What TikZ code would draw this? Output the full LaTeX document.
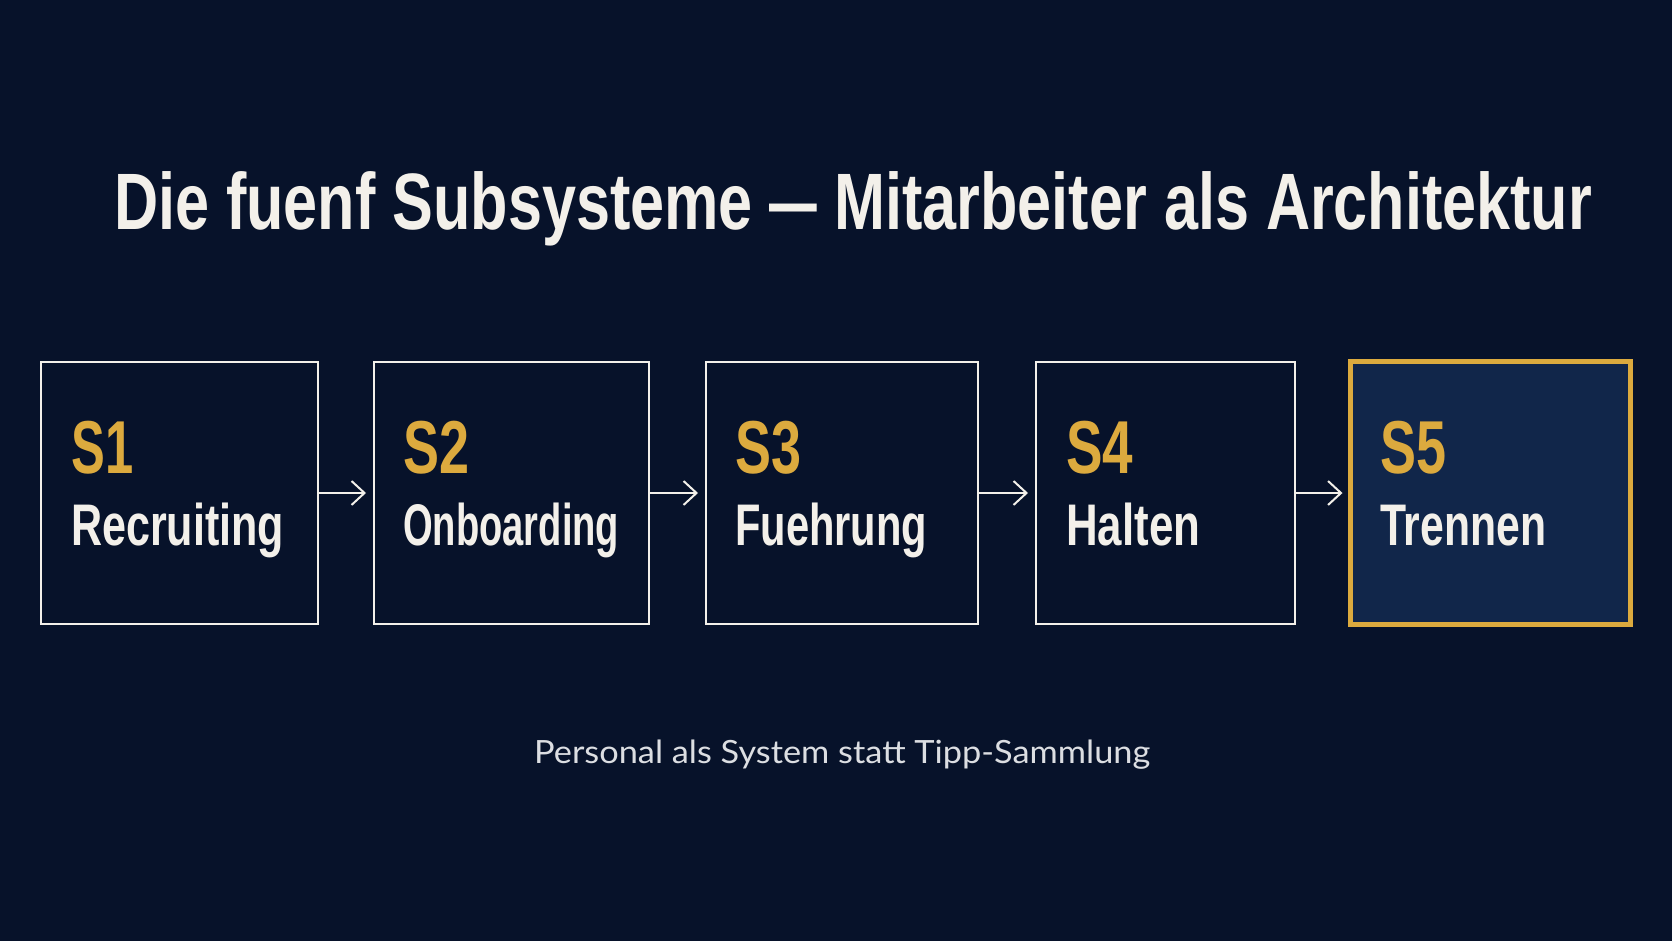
\documentclass[tikz,border=0pt]{standalone}
\usepackage{fontspec}
\usepackage{graphicx}
\usetikzlibrary{arrows.meta}
\setmainfont{Liberation Sans}
\newfontfamily\boxfont{Liberation Sans}
\newfontfamily\subfont{Lato}
\newcommand\fitto[2]{\resizebox{#1}{\height}{#2}}
\definecolor{bg}{HTML}{07122A}
\definecolor{gold}{HTML}{DCAA3E}
\definecolor{offwhite}{HTML}{F3F0EA}
\definecolor{hifill}{HTML}{11264A}
\definecolor{subgray}{HTML}{DCDEE2}
\tikzset{
  stagebox/.style={draw=offwhite, line width=2pt, inner sep=0pt, outer sep=0pt, minimum height=262pt},
  highbox/.style={draw=gold, fill=hifill, line width=5pt, inner sep=0pt, outer sep=0pt, minimum height=263pt},
  slabel/.style={anchor=base west, inner sep=0pt, text=gold, font=\boxfont\bfseries\fontsize{75}{80}\selectfont},
  nlabel/.style={anchor=base west, inner sep=0pt, text=offwhite, font=\boxfont\bfseries\fontsize{58.7}{64}\selectfont},
  flow/.style={draw=offwhite, line width=2pt, -{Straight Barb[length=13pt,width=24pt,line width=2pt]}, shorten >=8pt}
}
\begin{document}
\begin{tikzpicture}[x=1pt,y=-1pt]
\fill[bg] (0,0) rectangle (1672,941);
\useasboundingbox (0,0) rectangle (1672,941);
% title
\node[anchor=base west, inner sep=0pt, text=offwhite, font=\bfseries\fontsize{80}{90}\selectfont] (title) at (114,230)
  {\fitto{1478pt}{Die fuenf Subsysteme \fitto{0.78em}{---} Mitarbeiter als Architektur}};
% boxes
\node[stagebox, minimum width=277pt] (b1) at (179.5,493) {};
\node[stagebox, minimum width=275pt] (b2) at (511.5,493) {};
\node[stagebox, minimum width=272pt] (b3) at (842,493) {};
\node[stagebox, minimum width=259pt] (b4) at (1165.5,493) {};
\node[highbox, minimum width=280pt] (b5) at (1490.5,493) {};
% labels
\node[slabel] (s1) at (71,473) {\fitto{62pt}{S1}};
\node[nlabel] (n1) at (71,545) {\fitto{213pt}{Recruiting}};
\node[slabel] (s2) at (403,473) {\fitto{66pt}{S2}};
\node[nlabel] (n2) at (403,545) {\fitto{216pt}{Onboarding}};
\node[slabel] (s3) at (735,473) {\fitto{66pt}{S3}};
\node[nlabel] (n3) at (735,545) {\fitto{192pt}{Fuehrung}};
\node[slabel] (s4) at (1066,473) {\fitto{67pt}{S4}};
\node[nlabel] (n4) at (1066,545) {\fitto{134pt}{Halten}};
\node[slabel] (s5) at (1380,473) {\fitto{66pt}{S5}};
\node[nlabel] (n5) at (1380,545) {\fitto{166pt}{Trennen}};
% arrows
\draw[flow] (b1.east) -- (b2.west);
\draw[flow] (b2.east) -- (b3.west);
\draw[flow] (b3.east) -- (b4.west);
\draw[flow] (b4.east) -- (b5.west);
% subtitle
\node[anchor=base west, inner sep=0pt, text=subgray, font=\subfont\fontsize{32}{38}\selectfont] (sub) at (534,763)
  {\fitto{616pt}{Personal als System statt Tipp-Sammlung}};
\end{tikzpicture}
\end{document}
